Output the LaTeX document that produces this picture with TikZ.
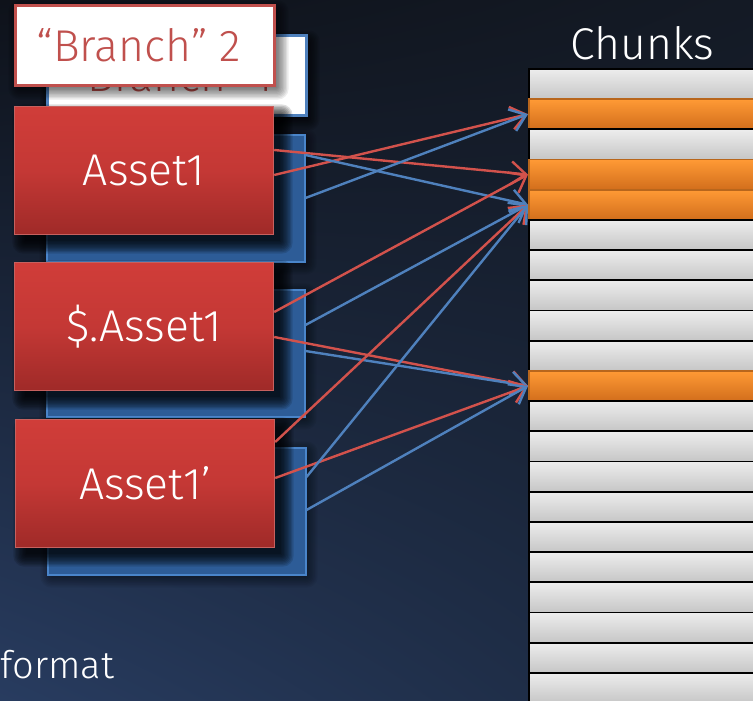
\documentclass[tikz,border=0pt]{standalone}
\usepackage{fontspec}
\setmainfont{Fira Sans Light}
\usetikzlibrary{arrows.meta,calc,shadings}

\definecolor{bgtl}{HTML}{0E121A}
\definecolor{bgtr}{HTML}{141A25}
\definecolor{bgbl}{HTML}{283C60}
\definecolor{bgbr}{HTML}{1B283E}
\definecolor{accred}{HTML}{C0504D}
\definecolor{accblue}{HTML}{4F81BD}
\definecolor{redtop}{HTML}{D03D39}
\definecolor{redmid}{HTML}{C43835}
\definecolor{redbot}{HTML}{9F2A28}
\definecolor{redline}{HTML}{D2524C}
\definecolor{bluefill}{HTML}{2D5C97}
\definecolor{blueedge}{HTML}{4A85CA}
\definecolor{greytop}{HTML}{EDEDED}
\definecolor{greybot}{HTML}{C6C6C6}
\definecolor{orangetop}{HTML}{FF9A35}
\definecolor{orangebot}{HTML}{D26E1C}
\definecolor{orangeedge}{HTML}{B8661C}

% soft drop shadow: stacked translucent rectangles, growing outwards
% #1,#2 = top-left corner, #3,#4 = bottom-right corner, #5 = layer opacity
\newcommand\softshadow[5]{%
  \foreach \k in {0,...,9}{%
    \fill[black, opacity=#5, rounded corners=1.2*\k pt]
      (#1+3-1.4*\k, #2-3+1.4*\k) rectangle (#3-3+1.4*\k, #4+3-1.4*\k);
  }%
}

\begin{document}
\begin{tikzpicture}[x=1pt,y=1pt,
  bigtext/.style={font=\fontsize{44.5}{44.5}\selectfont},
  lbl/.style={bigtext, text=white, inner sep=0pt},
  branchbox/.style={rectangle, anchor=north west, fill=white, line width=3pt,
    minimum width=259pt, minimum height=80pt, inner sep=0pt,
    bigtext, text=accred},
  assetbox/.style={rectangle, anchor=north west, draw=accred!90!white, line width=1.2pt,
    top color=redtop, bottom color=redbot, middle color=redmid,
    minimum width=259pt, minimum height=128pt, inner sep=0pt,
    bigtext, text=white},
  backbox/.style={rectangle, anchor=north west, fill=bluefill, draw=blueedge, line width=1.5pt,
    minimum width=258pt, minimum height=127pt, inner sep=0pt},
  chunk/.style={rectangle, anchor=north west, minimum width=232pt, minimum height=30.2pt,
    inner sep=0pt, line width=1.7pt},
  greychunk/.style={chunk, draw=black, top color=greytop, bottom color=greybot},
  orangechunk/.style={chunk, draw=orangeedge, top color=orangetop, bottom color=orangebot},
  link/.style={line width=2.4pt, -{Straight Barb[length=15pt,width=23pt]}},
  redlink/.style={link, draw=redline},
  bluelink/.style={link, draw=accblue},
]
\useasboundingbox (0,0) rectangle (753,-701);

% backdrop
\shade[upper left=bgtl, upper right=bgtr, lower left=bgbl, lower right=bgbr]
  (0,0) rectangle (753,-701);

% chunk column
\foreach \i/\kind in {0/greychunk,1/orangechunk,2/greychunk,3/orangechunk,4/orangechunk,
  5/greychunk,6/greychunk,7/greychunk,8/greychunk,9/greychunk,10/orangechunk,
  11/greychunk,12/greychunk,13/greychunk,14/greychunk,15/greychunk,16/greychunk,
  17/greychunk,18/greychunk,19/greychunk,20/greychunk,21/greychunk}{
  \pgfmathsetmacro\rowtop{-68-30.2*\i}
  \node[\kind] (c\i) at (528,\rowtop) {};
}
\node[lbl, anchor=base] (chunks) at (642.5,-60) {Chunks};

% branches
\softshadow{50}{-40}{310}{-121}{0.09}
\node[branchbox, draw=accblue] (br1) at (46,-34) {\hspace*{-10pt}“Branch” 1};
\softshadow{18}{-10}{279}{-90}{0.07}
\node[branchbox, draw=accred] (br2) at (14,-4) {\hspace*{-12pt}“Branch” 2};

% assets: the blue copy behind, the red one in front
\softshadow{49}{-138}{307}{-265}{0.05}
\node[backbox] (b1) at (46,-134) {};
\softshadow{22}{-114}{283}{-244}{0.13}
\node[assetbox] (a1) at (14,-106) {Asset1};

\softshadow{49}{-293}{307}{-420}{0.05}
\node[backbox] (b2) at (46,-289) {};
\softshadow{22}{-270}{283}{-400}{0.13}
\node[assetbox] (a2) at (14,-262) {\$.Asset1};

\softshadow{50}{-451}{308}{-578}{0.05}
\node[backbox] (b3) at (47,-447) {};
\softshadow{23}{-427}{284}{-557}{0.13}
\node[assetbox] (a3) at (15,-419) {Asset1’};

\node[lbl, anchor=base west, font=\fontsize{38}{38}\selectfont] (fmt) at (0.5,-678) {format};

% references into the chunks
\draw[redlink] ([yshift=-44pt]a1.north east) -- (c3.west);
\draw[redlink] ([yshift=-69pt]a1.north east) -- (c1.west);
\draw[bluelink] ([yshift=-21pt]b1.north east) -- (c4.west);
\draw[bluelink] ([yshift=-64pt]b1.north east) -- (c1.west);

\draw[redlink] ([yshift=-50pt]a2.north east) -- (c3.west);
\draw[redlink] ([yshift=-75pt]a2.north east) -- (c10.west);
\draw[bluelink] ([yshift=-36pt]b2.north east) -- (c4.west);
\draw[bluelink] ([yshift=-62pt]b2.north east) -- (c10.west);

\draw[redlink] ([yshift=-23pt]a3.north east) -- (c4.west);
\draw[redlink] ([yshift=-59pt]a3.north east) -- (c10.west);
\draw[bluelink] ([yshift=-30pt]b3.north east) -- (c4.west);
\draw[bluelink] ([yshift=-63pt]b3.north east) -- (c10.west);
\end{tikzpicture}
\end{document}
